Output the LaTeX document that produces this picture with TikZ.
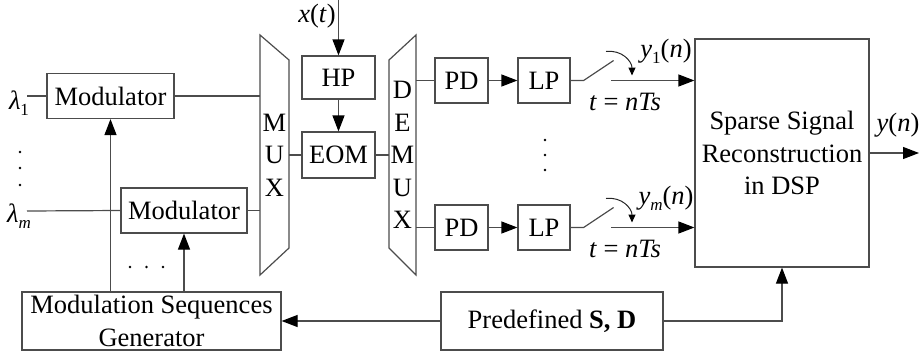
\documentclass[tikz,border=0pt]{standalone}
\usepackage{fontspec}
\setmainfont{Liberation Serif}
\usetikzlibrary{arrows.meta}
% small lowered index for signal names
\newcommand\lo[1]{\raisebox{-0.22em}{\fontsize{17}{17}\selectfont #1}}
\tikzset{
  blk/.style={draw=black!70,line width=1.2pt,inner sep=0pt,minimum height=45pt},
  wire/.style={draw=black!70,line width=1.2pt},
  sig/.style={wire,-{Triangle[length=16pt,width=12pt,color=black]}},
  tap/.style={draw=black!85,line width=1pt,-{Triangle[length=8pt,width=7pt,color=black]}},
}
\begin{document}
\begin{tikzpicture}[x=1pt,y=-1pt,every node/.style={font=\fontsize{26.5}{32.5}\selectfont}]
\useasboundingbox (0,0) rectangle (920,356);
% modulators and sequence generator
\node[blk,minimum width=127pt] (mod1) at (110.5,96) {Modulator};
\node[blk,minimum width=126pt] (modm) at (184,210.5) {Modulator};
\node[blk,minimum width=259pt,minimum height=58pt,align=center] (gen) at (151.5,321) {Modulation Sequences\\Generator};
\node[blk,minimum width=222pt,minimum height=58pt] (pre) at (552,321) {Predefined \textbf{S, D}};
\coordinate (in1) at (27,96);
\coordinate (inm) at (27,211);
\node (lam1) at (19,103) {\textit{λ}\lo{1}};
\node (lamm) at (19,216) {\textit{λ}\lo{\textit{m}}};
\foreach \v in {152,168,185} \fill (20,\v) circle (1.4);
\foreach \u in {130,146.5,163} \fill (\u,267) circle (1.4);
% mux / demux
\draw[wire] (260,35) -- (289,60) -- (289,248) -- (260,275) -- cycle;
\draw[wire] (389,60) -- (416,35) -- (416,275) -- (389,248) -- cycle;
\node[align=center] (muxtxt) at (274.5,155) {M\\U\\X};
\node[align=center] (dmxtxt) at (402.5,155) {D\\E\\M\\U\\X};
\coordinate (mux1) at (260,96);
\coordinate (muxm) at (260,210.5);
\coordinate (muxout) at (289,155);
\coordinate (dmxin) at (389,155);
% modulator
\node[blk,minimum width=73pt,minimum height=43pt] (hp) at (338.5,77.5) {HP};
\node[blk,minimum width=73pt,minimum height=46pt] (eom) at (338.5,155) {EOM};
\coordinate (xin) at (338.5,0);
\node (xlab) at (317,16) {\textit{x}(\textit{t})};
% reconstruction
\node[blk,minimum width=174pt,minimum height=228pt,align=center] (dsp) at (782,153) {Sparse Signal\\Reconstruction\\in DSP};
\coordinate (yout) at (919,153);
\node (ylab) at (898,125) {\textit{y}(\textit{n})};
\draw[wire] (in1) -- (mod1.west);
\draw[wire] (inm) -- (modm.west);
\draw[wire] (mod1.east) -- (mux1);
\draw[wire] (modm.east) -- (muxm);
\draw[sig] (gen.north -| mod1) -- (mod1.south);
\draw[sig] (gen.north -| modm) -- (modm.south);
\draw[sig] (pre.west) -- (gen.east);
\draw[sig] (pre.east) -| (dsp.south);
\draw[sig] (xin) -- (hp.north);
\draw[sig] (hp) -- (eom);
\draw[wire] (muxout) -- (eom.west);
\draw[wire] (eom.east) -- (dmxin);
\draw[sig] (dsp.east) -- (yout);
% detection branches
\foreach \r/\y/\s in {1/80.5/1,m/227.5/{\textit{m}}}{
  \node[blk,minimum width=53pt] (pd\r) at (461.5,\y) {PD};
  \node[blk,minimum width=52pt] (lp\r) at (544,\y) {LP};
  \coordinate (dmx\r) at (416,\y);
  \coordinate (sw\r) at (611,\y);
  \draw[wire] (dmx\r) -- (pd\r.west);
  \draw[sig] (pd\r) -- (lp\r);
  \draw[wire] (lp\r.east) -- ++(13,0) -- ++(30,-20);
  \draw[sig] (sw\r) -- (sw\r -| dsp.west);
  \draw[tap] ([shift={(-5,-29)}]sw\r) .. controls +(16,-2) and +(0,-14) .. ([shift={(21,-5)}]sw\r);
  \node (yl\r) at ([shift={(55,-29)}]sw\r) {\textit{y}\lo{\s}(\textit{n})};
  \node (tl\r) at ([shift={(14,21)}]sw\r) {\textit{t} = \textit{nTs}};
}
\foreach \v in {140,155,170} \fill (545,\v) circle (1.4);
\end{tikzpicture}
\end{document}
